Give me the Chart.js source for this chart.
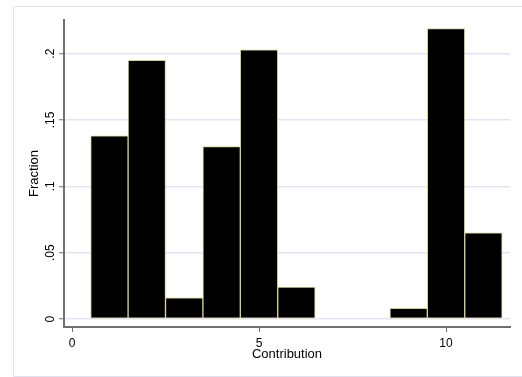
<!DOCTYPE html>
<html>
<head>
<meta charset="utf-8">
<script src="https://cdn.jsdelivr.net/npm/chart.js@4.4.1/dist/chart.umd.min.js"></script>
<style>
    html, body { margin: 0; padding: 0; background: #ffffff; overflow: hidden; }
    canvas { display: block; }
</style>
</head>
<body>
<canvas id="histChart" width="522" height="377"></canvas>
<script>
const contribution = [1, 2, 3, 4, 5, 6, 9, 10, 11];
const fraction = [0.138, 0.195, 0.016, 0.130, 0.203, 0.024, 0.008, 0.219, 0.065];

// marcas dos eixos
const yTickValues = [0, 0.05, 0.1, 0.15, 0.2];
const yTickLabels = ['0', '.05', '.1', '.15', '.2'];
const xTickValues = [0, 5, 10];
const xTickLabels = ['0', '5', '10'];

const axisGray = '#6f6f6f';
const gridColor = '#e3e6f2';

Chart.defaults.font.family = "'Liberation Sans', Arial, sans-serif";
Chart.defaults.color = '#000000';

// moldura clara da região do gráfico (estilo Stata)
const framePlugin = {
    id: 'frame',
    beforeDraw: function(chart) {
        const c = chart.ctx;
        c.save();
        c.fillStyle = '#ffffff';
        c.fillRect(0, 0, chart.width, chart.height);
        c.strokeStyle = '#e1e4ef';
        c.lineWidth = 1;
        c.beginPath();
        c.moveTo(chart.width, 6.5);
        c.lineTo(13.5, 6.5);
        c.lineTo(13.5, 376.5);
        c.lineTo(chart.width, 376.5);
        c.stroke();
        c.restore();
    }
};

const ctx = document.getElementById('histChart');

new Chart(ctx.getContext('2d'), {
    type: 'bar',
    data: {
        datasets: [{
            label: 'Fraction',
            data: contribution.map((c, i) => ({ x: c, y: fraction[i] })),
            backgroundColor: '#000000',
            borderColor: '#d6cf9c',
            borderWidth: 1,
            borderSkipped: false,
            categoryPercentage: 1,
            barPercentage: 1
        }]
    },
    plugins: [framePlugin],
    options: {
        responsive: false,
        animation: false,
        layout: {
            padding: { left: 27, right: 12, top: 20, bottom: 15 }
        },
        plugins: {
            legend: { display: false },
            tooltip: { enabled: false }
        },
        scales: {
            x: {
                type: 'linear',
                offset: false,
                min: -0.214,
                max: 11.71,
                afterBuildTicks: function(scale) {
                    scale.ticks = xTickValues.map(v => ({ value: v }));
                },
                afterFit: function(scale) {
                    scale.height = 35;
                },
                ticks: {
                    autoSkip: false,
                    maxRotation: 0,
                    padding: 4,
                    font: { size: 12 },
                    color: '#000000',
                    callback: function(value) {
                        const i = xTickValues.indexOf(value);
                        return i >= 0 ? xTickLabels[i] : '';
                    }
                },
                grid: {
                    offset: false,
                    drawOnChartArea: false,
                    drawTicks: true,
                    tickLength: 5,
                    tickColor: axisGray,
                    tickWidth: 1
                },
                border: { color: axisGray, width: 2 },
                title: {
                    display: true,
                    text: 'Contribution',
                    font: { size: 13 },
                    color: '#000000',
                    padding: 0
                }
            },
            y: {
                min: -0.006,
                max: 0.2254,
                afterBuildTicks: function(scale) {
                    scale.ticks = yTickValues.map(v => ({ value: v }));
                },
                afterFit: function(scale) {
                    scale.width = 37;
                },
                ticks: {
                    autoSkip: false,
                    minRotation: 90,
                    maxRotation: 90,
                    crossAlign: 'center',
                    padding: 0,
                    font: { size: 12 },
                    color: '#000000',
                    callback: function(value) {
                        const i = yTickValues.indexOf(value);
                        return i >= 0 ? yTickLabels[i] : '';
                    }
                },
                grid: {
                    offset: false,
                    color: gridColor,
                    lineWidth: 1.5,
                    drawTicks: true,
                    tickLength: 5,
                    tickColor: axisGray,
                    tickWidth: 1
                },
                border: { color: axisGray, width: 2 },
                title: {
                    display: true,
                    text: 'Fraction',
                    font: { size: 13 },
                    color: '#000000',
                    padding: 0
                }
            }
        }
    }
});
</script>
</body>
</html>
